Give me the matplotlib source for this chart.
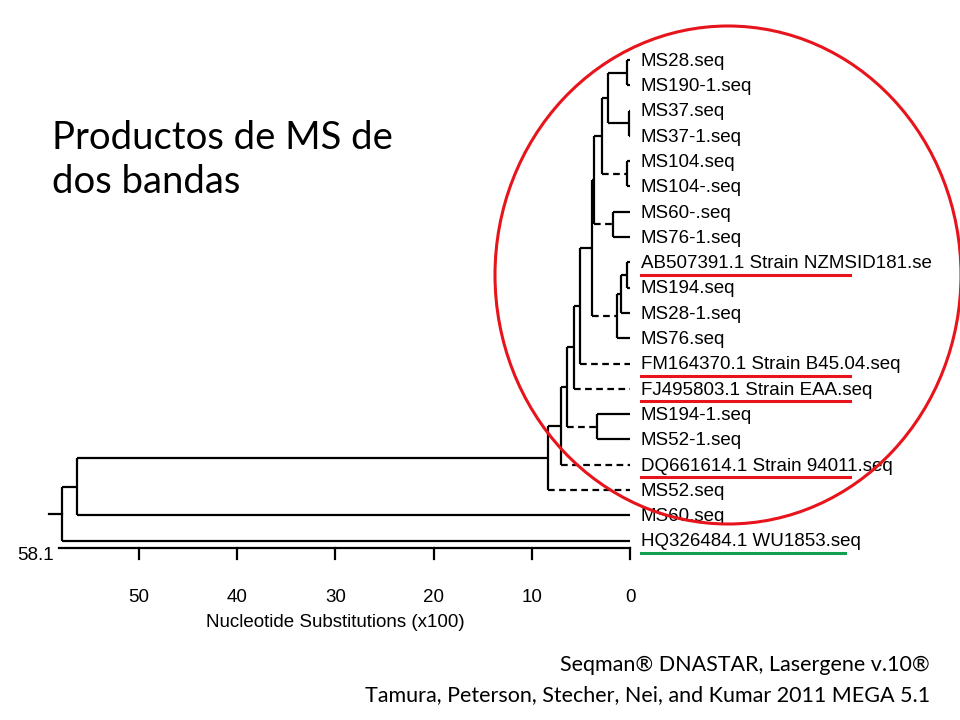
import matplotlib.pyplot as plt
from matplotlib.patches import Ellipse

# leaf names top to bottom
leaves = ["MS28.seq", "MS190-1.seq", "MS37.seq", "MS37-1.seq", "MS104.seq",
          "MS104-.seq", "MS60-.seq", "MS76-1.seq", "AB507391.1 Strain NZMSID181.se",
          "MS194.seq", "MS28-1.seq", "MS76.seq", "FM164370.1 Strain B45.04.seq",
          "FJ495803.1 Strain EAA.seq", "MS194-1.seq", "MS52-1.seq",
          "DQ661614.1 Strain 94011.seq", "MS52.seq", "MS60.seq", "HQ326484.1 WU1853.seq"]
red_marked = ["AB507391.1 Strain NZMSID181.se", "FM164370.1 Strain B45.04.seq",
              "FJ495803.1 Strain EAA.seq", "DQ661614.1 Strain 94011.seq"]
green_marked = ["HQ326484.1 WU1853.seq"]

# internal nodes: name -> (height, [(child, dashed), ...])
nodes = {
    "root": (57.8, [("X", False), ("HQ326484.1 WU1853.seq", False)]),
    "X": (56.3, [("A", False), ("MS60.seq", False)]),
    "A": (8.35, [("B", False), ("MS52.seq", True)]),
    "B": (7.0, [("C", False), ("DQ661614.1 Strain 94011.seq", True)]),
    "C": (6.4, [("E", False), ("D", True)]),
    "D": (3.4, [("MS194-1.seq", False), ("MS52-1.seq", False)]),
    "E": (5.7, [("F", False), ("FJ495803.1 Strain EAA.seq", True)]),
    "F": (5.1, [("Q2", False), ("FM164370.1 Strain B45.04.seq", True)]),
    "Q2": (3.9, [("Q1", False), ("H", True)]),
    "Q1": (3.7, [("N", False), ("P", True)]),
    "N": (2.85, [("M", False), ("O", True)]),
    "M": (2.25, [("K", False), ("L", False)]),
    "K": (0.3, [("MS28.seq", False), ("MS190-1.seq", False)]),
    "L": (0.1, [("MS37.seq", False), ("MS37-1.seq", False)]),
    "O": (0.3, [("MS104.seq", False), ("MS104-.seq", False)]),
    "P": (1.75, [("MS60-.seq", False), ("MS76-1.seq", False)]),
    "H": (1.3, [("I", False), ("MS76.seq", False)]),
    "I": (0.9, [("J", False), ("MS28-1.seq", False)]),
    "J": (0.3, [("AB507391.1 Strain NZMSID181.se", False), ("MS194.seq", False)]),
}
scale_ticks = [50, 40, 30, 20, 10, 0]
scale_max = 58.1

fig = plt.figure(figsize=(9.6, 7.2), dpi=100)
ax = fig.add_axes([0, 0, 1, 1])
ax.set_xlim(64.15, -33.6)
ax.set_ylim(26.09, -2.37)
ax.axis("off")
lw = 1.6
fs = 13.5

def pos(name):
    if name in nodes:
        h, kids = nodes[name]
        ys = [pos(k)[1] for k, _ in kids]
        return h, (ys[0] + ys[-1]) / 2
    return 0.0, leaves.index(name)

def draw(name):
    h, kids = nodes[name]
    ys = []
    for k, dashed in kids:
        kh, ky = pos(k)
        ys.append(ky)
        ax.plot([h, kh], [ky, ky], color="black", lw=lw,
                ls=(0, (3, 2)) if dashed else "-", solid_capstyle="butt")
        if k in nodes:
            draw(k)
    ax.plot([h, h], [ys[0], ys[-1]], color="black", lw=lw, solid_capstyle="butt")

draw("root")
rh, ry = pos("root")
ax.plot([rh + 1.4, rh], [ry, ry], color="black", lw=lw)

for i, name in enumerate(leaves):
    ax.text(-1.1, i + 0.05, name, fontsize=fs, family="Liberation Sans",
            va="center", ha="left", clip_on=True)
    if name in red_marked or name in green_marked:
        c = "#e8141c" if name in red_marked else "#14a050"
        ax.plot([-1.1, -22.4 if c != "#14a050" else -21.9], [i + 0.5, i + 0.5],
                color=c, lw=2.2)

# scale bar
sy = 19.29
ax.plot([scale_max, 0], [sy, sy], color="black", lw=lw)
for t in scale_ticks:
    ax.plot([t, t], [sy, sy + 0.45], color="black", lw=lw)
    ax.text(t, sy + 1.95, str(t), ha="center", va="center", fontsize=fs,
            family="Liberation Sans")
ax.text(scale_max + 0.6, sy + 0.3, str(scale_max), ha="right", va="center",
        fontsize=fs, family="Liberation Sans")
ax.text(30, sy + 2.95, "Nucleotide Substitutions (x100)", ha="center", va="center",
        fontsize=fs, family="Liberation Sans")

# overlay in pixel coordinates
ov = fig.add_axes([0, 0, 1, 1], facecolor="none")
ov.set_xlim(0, 960)
ov.set_ylim(720, 0)
ov.axis("off")
ov.add_patch(Ellipse((728, 275), 466, 498, fill=False, edgecolor="#e8141c", lw=2.2))
ov.text(52, 160, "Productos de MS de\ndos bandas", fontsize=27.5, family="Lato",
        va="center", ha="left", linespacing=1.3)
ov.text(930, 665, "Seqman® DNASTAR, Lasergene v.10®", fontsize=15.5, family="Lato",
        ha="right", va="center")
ov.text(930, 695, "Tamura, Peterson, Stecher, Nei, and Kumar 2011 MEGA 5.1",
        fontsize=15.5, family="Lato", ha="right", va="center")

fig.savefig("out.png", dpi=100)
